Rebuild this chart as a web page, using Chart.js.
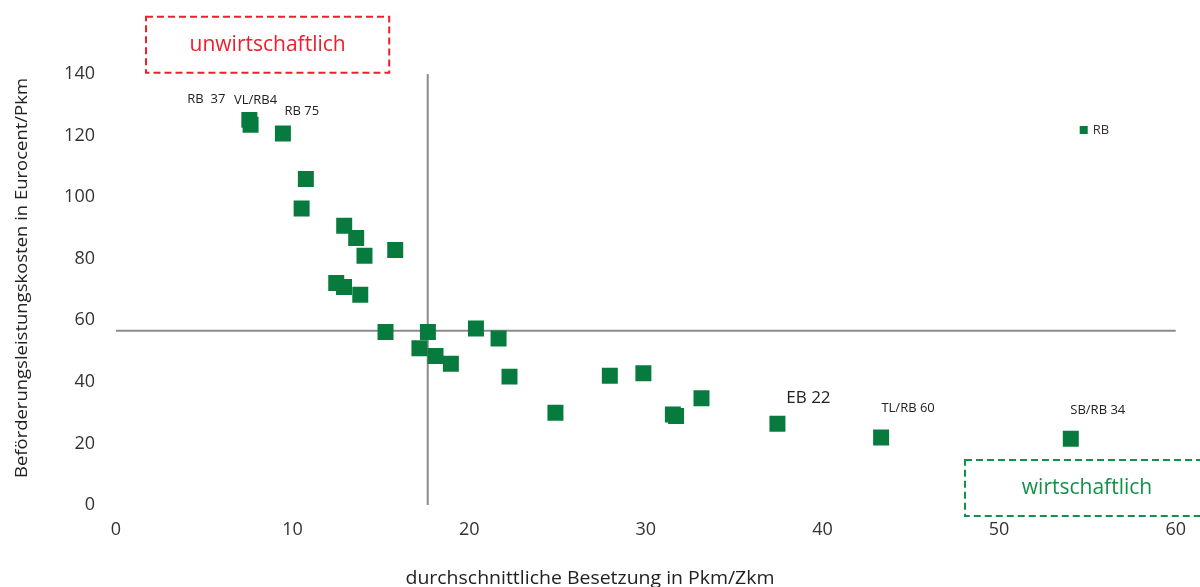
<!DOCTYPE html>
<html>
<head>
<meta charset="utf-8">
<script src="https://cdn.jsdelivr.net/npm/chart.js@4/dist/chart.umd.min.js"></script>
<style>
  html, body { margin: 0; padding: 0; background: #ffffff; overflow: hidden; }
  canvas { display: block; }
</style>
</head>
<body>
<canvas id="chart" width="1200" height="587"></canvas>
<script>
// Regional lines: average occupancy (Pkm/Zkm) vs. transport cost (Eurocent/Pkm)
const occupancy = [7.55, 7.62, 9.45, 10.75, 10.51, 12.92, 13.60, 14.07, 15.81, 12.47,
                   12.91, 13.83, 15.26, 17.66, 17.18, 18.09, 18.96, 20.38, 21.66, 22.28,
                   24.88, 27.96, 29.86, 31.53, 31.71, 33.15, 37.45, 43.32, 54.06];
const costs = [125.1, 123.5, 120.7, 105.9, 96.3, 90.7, 86.7, 81.0, 82.8, 72.1,
               70.8, 68.3, 56.2, 56.2, 50.9, 48.4, 45.9, 57.3, 54.1, 41.7,
               30.0, 42.0, 42.8, 29.4, 28.9, 34.7, 26.4, 21.9, 21.5];
const lineNames = ['RB  37', 'VL/RB4', 'RB 75', '', '', '', '', '', '', '',
                   '', '', '', '', '', '', '', '', '', '',
                   '', '', '', '', '', '', 'EB 22', 'TL/RB 60', 'SB/RB 34'];

const seriesName = 'RB';
const meanOccupancy = 17.65;   // vertical reference line
const meanCost = 56.6;         // horizontal reference line
const xTickValues = [0, 10, 20, 30, 40, 50, 60];
const yTickValues = [0, 20, 40, 60, 80, 100, 120, 140];
const xTitle = 'durchschnittliche Besetzung in Pkm/Zkm';
const yTitle = 'Beförderungsleistungskosten in Eurocent/Pkm';
const zoneNames = ['unwirtschaftlich', 'wirtschaftlich'];

// ---- styling ----
const GREEN = '#077b3e';
const FONT = "'Open Sans', 'Noto Sans', sans-serif";
const zoneStyles = [
  { xMin: 1.7, xMax: 15.47, yMin: 140.4, yMax: 158.6, color: '#ee1f2a', text: '#ee1f2a' },
  { xMin: 48.07, xMax: 62.5, yMin: -3.6, yMax: 14.6, color: '#129148', text: '#129148' }
];
const labelStyles = {
  'RB  37':   { dx: -43, dy: -21, size: 13 },
  'VL/RB4':   { dx: 5,   dy: -24, size: 13 },
  'RB 75':    { dx: 19,  dy: -22, size: 13 },
  'EB 22':    { dx: 31,  dy: -26, size: 17 },
  'TL/RB 60': { dx: 27,  dy: -29, size: 13 },
  'SB/RB 34': { dx: 27,  dy: -29, size: 13 }
};

const points = occupancy.map((x, i) => ({ x: x, y: costs[i] }));

const referenceLines = {
  id: 'referenceLines',
  beforeDatasetsDraw(chart) {
    const { ctx, chartArea: a, scales: { x, y } } = chart;
    const px = x.getPixelForValue(meanOccupancy);
    const py = y.getPixelForValue(meanCost);
    ctx.save();
    ctx.strokeStyle = '#8c8c8c';
    ctx.lineWidth = 2;
    ctx.beginPath();
    ctx.moveTo(px, a.top); ctx.lineTo(px, a.bottom);
    ctx.moveTo(a.left, py); ctx.lineTo(a.right, py);
    ctx.stroke();
    ctx.restore();
  }
};

const decorations = {
  id: 'decorations',
  afterDraw(chart) {
    const { ctx, chartArea: a, scales: { x, y } } = chart;
    ctx.save();

    // zones
    zoneStyles.forEach((z, i) => {
      const l = x.getPixelForValue(z.xMin), r = x.getPixelForValue(z.xMax);
      const t = y.getPixelForValue(z.yMax), b = y.getPixelForValue(z.yMin);
      ctx.setLineDash([7, 4]);
      ctx.lineWidth = 2;
      ctx.strokeStyle = z.color;
      ctx.strokeRect(l, t, r - l, b - t);
      ctx.setLineDash([]);
      ctx.fillStyle = z.text;
      ctx.font = '21px ' + FONT;
      ctx.textAlign = 'center';
      ctx.textBaseline = 'middle';
      const cx = i === 0 ? (l + r) / 2 : l + 122;
      ctx.fillText(zoneNames[i], cx, (t + b) / 2);
    });

    // point labels
    const meta = chart.getDatasetMeta(0);
    ctx.fillStyle = '#222222';
    ctx.textAlign = 'center';
    ctx.textBaseline = 'middle';
    lineNames.forEach((name, i) => {
      if (!name) return;
      const s = labelStyles[name];
      const el = meta.data[i];
      ctx.font = s.size + 'px ' + FONT;
      ctx.fillText(name, el.x + s.dx, el.y + s.dy);
    });

    // legend
    ctx.fillStyle = GREEN;
    ctx.fillRect(a.right - 96, 126, 8, 8);
    ctx.fillStyle = '#333333';
    ctx.font = '13px ' + FONT;
    ctx.textAlign = 'left';
    ctx.fillText(chart.data.datasets[0].label, a.right - 83, 130);

    // axis titles
    ctx.fillStyle = '#222222';
    ctx.textAlign = 'center';
    ctx.textBaseline = 'middle';
    ctx.font = '17px ' + FONT;
    let w = ctx.measureText(yTitle).width;
    ctx.save();
    ctx.translate(22, 278);
    ctx.rotate(-Math.PI / 2);
    ctx.scale(400 / w, 1);
    ctx.fillText(yTitle, 0, 0);
    ctx.restore();

    ctx.font = '19px ' + FONT;
    w = ctx.measureText(xTitle).width;
    ctx.save();
    ctx.translate(590, 579);
    ctx.scale(369 / w, 1);
    ctx.fillText(xTitle, 0, 0);
    ctx.restore();

    ctx.restore();
  }
};

new Chart(document.getElementById('chart'), {
  type: 'scatter',
  data: {
    datasets: [{
      label: seriesName,
      data: points,
      pointStyle: 'rect',
      pointRadius: 11.3,
      pointHoverRadius: 11.3,
      backgroundColor: GREEN,
      borderColor: GREEN,
      borderWidth: 0
    }]
  },
  options: {
    responsive: false,
    animation: false,
    events: [],
    layout: { padding: { top: 74, right: 24, left: 0, bottom: 0 } },
    plugins: { legend: { display: false }, tooltip: { enabled: false } },
    scales: {
      x: {
        type: 'linear',
        min: xTickValues[0],
        max: xTickValues[xTickValues.length - 1],
        afterBuildTicks(scale) { scale.ticks = xTickValues.map(v => ({ value: v })); },
        afterFit(scale) { scale.height = 82; },
        grid: { display: false, drawTicks: false },
        border: { display: false },
        ticks: { padding: 14, color: '#333333', font: { family: FONT, size: 18 } }
      },
      y: {
        type: 'linear',
        min: yTickValues[0],
        max: yTickValues[yTickValues.length - 1],
        afterBuildTicks(scale) { scale.ticks = yTickValues.map(v => ({ value: v })); },
        afterFit(scale) { scale.width = 116; },
        grid: { display: false, drawTicks: false },
        border: { display: false },
        ticks: { padding: 21, color: '#333333', font: { family: FONT, size: 18 } }
      }
    }
  },
  plugins: [referenceLines, decorations]
});
</script>
</body>
</html>
